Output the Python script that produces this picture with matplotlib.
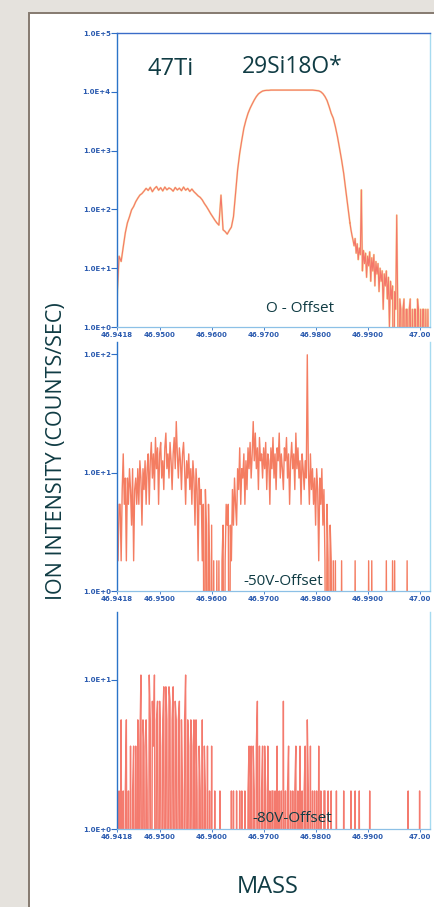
import numpy as np
import matplotlib
matplotlib.use('Agg')
import matplotlib.pyplot as plt
from matplotlib.patches import Rectangle

# mass channels (amu)
start_mass = 46.9418
step_0v = 0.0004
tail_start = 46.9866
step_off = 0.0002

# 0 V offset spectrum, counts/sec per channel
counts_0v = [3, 16, 13, 23, 40, 59, 75, 98, 112, 135, 155, 175, 186,
             205, 228, 210, 238, 200, 226, 245, 212, 234, 206, 240, 215,
             232, 222, 204, 236, 214, 230, 208, 240, 212, 228, 202, 222,
             200, 185, 170, 160, 145, 126, 112, 98, 85, 75, 66, 59, 54,
             175, 45, 42, 38, 44, 50, 75, 186, 470, 900, 1500, 2400, 3300,
             4300, 5250, 6200, 7250, 8300, 9200, 9800, 10300,
             10500, 10600, 10600, 10700, 10700, 10700, 10700, 10700, 10700,
             10700, 10700, 10700, 10700, 10700, 10700, 10700, 10700, 10700,
             10700, 10700, 10700, 10700, 10700, 10700, 10600, 10500,
             10400, 10000, 9300, 8300, 7100, 5600, 4300, 3550, 2550, 1730,
             1100, 690, 410, 213, 112, 59]

# 0 V offset noisy tail, finer channels from 46.9866 amu
counts_0v_tail = [59, 45, 36, 30, 24, 32, 18, 26, 14, 22, 17, 215, 9, 20, 12,
                  18, 7, 16, 11, 19, 6, 15, 9, 17, 5, 13, 8, 12, 4, 10, 6, 9,
                  2, 8, 5, 9, 3, 7, 1, 6, 3, 5, 0, 4, 2, 80, 2, 0, 3, 2, 0, 2,
                  3, 0, 2, 2, 0, 2, 3, 0, 2, 0, 2, 2, 0, 3, 2, 0, 2, 0, 2, 2,
                  0, 2, 0, 2, 0]

# -50 V and -80 V offset: counts per channel, in steps of 1.8 counts/sec
count_unit = 1.8
counts_50v = """
3 1 3 3 1 4 8 3 5 1  5 3 6 4 2 6 1 4 5 3  6 3 7 5 2 6 4 7 3 6
8 3 7 10 5 8 4 11 6 9  3 8 10 5 7 4 9 12 6 8  5 10 7 4 8 11 6 15 8 5
9 7 4 8 10 6 3 7 5 8  4 6 3 7 5 2 6 4 1 5  3 4 1 3 0 4 2 0 3 1
0 2 0 1 0 0 1 0 1 0  0 1 2 0 1 3 2 3 0 2  1 4 2 5 3 2 6 4 9 3
6 5 8 3 7 4 9 6 10 5  8 15 7 12 6 9 4 11 7 8  5 9 6 10 4 8 7 3 9 6
11 5 8 4 9 7 12 5 8 6  4 9 7 11 5 8 3 7 10 6  8 4 12 6 9 5 7 3 8 6
4 7 5 55 6 3 8 4 6 3  5 2 6 4 1 5 3 6 2 4  1 0 3 1 0 2 1 0 1 0
1 0 0 0 0 0 1 0 0 0  0 0 0 0 0 0 0 0 0 1  0 0 0 0 0 0 0 0 0 0
0 0 1 0 0 1 0 0 0 0  0 0 0 0 0 0 0 0 0 1  0 0 0 0 0 1 0 1 0 0
0 0 0 0 0 0 0 0 0 1  0 0 0 0 0 0 0 0 0 0  0 0 0 0 0 0 0 0 0 0
"""
counts_80v = """
1 0 1 0 3 0 1 0 1 3  0 1 0 2 0 1 2 0 2 0  3 0 2 6 0 3 2 0 3 1
0 6 3 0 4 2 6 0 3 4  0 4 2 0 3 5 0 5 3 0  5 4 0 3 5 0 4 3 0 3
4 0 3 1 0 3 6 0 3 2  0 3 2 0 3 0 3 1 0 2  1 0 3 0 2 1 0 2 0 1
0 2 0 0 1 0 0 0 0 1  0 0 0 0 0 0 0 0 0 0  1 0 1 0 0 1 0 0 1 0
1 0 0 1 0 0 1 2 0 2  0 2 1 0 2 4 0 2 0 1  2 0 2 1 0 2 0 1 0 1
1 0 1 0 2 0 1 0 1 0  4 0 1 0 1 2 0 1 0 1  0 1 2 0 1 0 2 0 1 0
1 2 0 3 1 0 2 0 1 0  1 0 1 0 2 0 1 0 0 1  1 0 0 1 0 0 1 0 0 0
0 1 0 0 0 0 0 0 1 0  0 0 0 0 0 1 0 0 0 1  0 0 0 1 0 0 0 0 0 0
0 0 0 1 0 0 0 0 0 0  0 0 0 0 0 0 0 0 0 0  0 0 0 0 0 0 0 0 0 0
0 0 0 0 0 0 0 0 0 0  1 0 0 0 0 0 0 0 0 0  0 1 0 0 0 0 0 0 0 0
"""

mass_ticks = [46.9418, 46.95, 46.96, 46.97, 46.98, 46.99, 47.00]
mass_labels = ["46.9418", "46.9500", "46.9600", "46.9700", "46.9800", "46.9900", "47.00"]
panel_labels = ["O - Offset", "-50V-Offset", "-80V-Offset"]

W, H = 434, 907
txt_col = '#103c44'
tick_col = '#2a5aaf'
line_col = '#f4776a'

fig = plt.figure(figsize=(W / 100, H / 100), dpi=100, facecolor='#e5e2dd')
fig.add_artist(Rectangle((29 / W, -0.05), 1.0, 1.05 - 12.5 / H, transform=fig.transFigure,
                         facecolor='white', edgecolor='#857a70', lw=1.4, zorder=-5))


def px_axes(left, top, right, bottom):
    return fig.add_axes([left / W, 1 - bottom / H, (right - left) / W, (bottom - top) / H])


def style(ax, ymax, yticks, ylabels, top_spine):
    ax.set_yscale('log')
    ax.set_ylim(1, ymax)
    ax.set_xlim(46.9418, 47.002)
    ax.set_facecolor('none')
    ax.set_xticks(mass_ticks, mass_labels)
    ax.set_yticks(yticks, ylabels)
    ax.minorticks_off()
    ax.tick_params(axis='y', direction='out', length=4, width=0.8, color='#2f6fc6',
                   pad=0.5, labelsize=5, labelcolor=tick_col)
    ax.tick_params(axis='x', direction='out', length=2, width=0.6, color='#2f6fc6',
                   pad=1.5, labelsize=5, labelcolor=tick_col)
    for lab in ax.get_xticklabels() + ax.get_yticklabels():
        lab.set_fontweight('bold')
    ax.spines['left'].set_color('#2b74c8')
    ax.spines['left'].set_linewidth(1.0)
    ax.spines['right'].set_color('#a6dbf0')
    ax.spines['right'].set_linewidth(1.0)
    ax.spines['bottom'].set_color('#8cc0e6')
    ax.spines['bottom'].set_linewidth(0.9)
    if top_spine:
        ax.spines['top'].set_color('#3a6cc8')
        ax.spines['top'].set_linewidth(1.0)
    else:
        ax.spines['top'].set_visible(False)


def offset_counts(text):
    c = np.array(text.split(), dtype=float) * count_unit
    c[c == 0] = 0.01   # empty channels fall below the axis
    return c


# panel 1: 0 V offset
ax1 = px_axes(117, 33, 430, 327)
m0 = start_mass + step_0v * np.arange(len(counts_0v))
tail = np.array(counts_0v_tail, dtype=float)
tail[tail == 0] = 0.01
mt = tail_start + step_off * np.arange(len(tail))
for xs, ys in [(m0, counts_0v), (mt, tail)]:
    ax1.plot(xs, ys, color='#f5c04a', lw=1.4, alpha=0.5)
    ax1.plot(xs, ys, color=line_col, lw=0.8)
style(ax1, 1e5, [1, 10, 100, 1e3, 1e4, 1e5],
      ["1.0E+0", "1.0E+1", "1.0E+2", "1.0E+3", "1.0E+4", "1.0E+5"], True)

# panel 2: -50 V offset
ax2 = px_axes(117, 342, 430, 591)
c50 = offset_counts(counts_50v)
m50 = start_mass + step_off * np.arange(len(c50))
ax2.plot(m50, c50, color='#f47d62', lw=1.0)
style(ax2, 127, [1, 10, 100], ["1.0E+0", "1.0E+1", "1.0E+2"], False)

# panel 3: -80 V offset
ax3 = px_axes(117, 612, 430, 829)
c80 = offset_counts(counts_80v)
m80 = start_mass + step_off * np.arange(len(c80))
ax3.plot(m80, c80, color='#f47a6e', lw=1.0)
style(ax3, 28.6, [1, 10], ["1.0E+0", "1.0E+1"], False)

font = 'Open Sans'
fig.text(171 / W, 1 - 75 / H, '47Ti', ha='center', va='baseline', fontsize=17,
         color=txt_col, family=font)
fig.text(292 / W, 1 - 73 / H, '29Si18O*', ha='center', va='baseline', fontsize=16.5,
         color=txt_col, family=font)
fig.text(300 / W, 1 - 312 / H, panel_labels[0], ha='center', va='baseline', fontsize=11,
         color=txt_col, family=font)
fig.text(283 / W, 1 - 585 / H, panel_labels[1], ha='center', va='baseline', fontsize=11,
         color=txt_col, family=font)
fig.text(292 / W, 1 - 822 / H, panel_labels[2], ha='center', va='baseline', fontsize=11,
         color=txt_col, family=font)
fig.text(57 / W, 1 - 451 / H, 'ION INTENSITY (COUNTS/SEC)', rotation=90, ha='center',
         va='center', fontsize=15.5, color=txt_col, family=font)
fig.text(268 / W, 1 - 893 / H, 'MASS', ha='center', va='baseline', fontsize=17,
         color=txt_col, family=font)

fig.savefig('out.png', dpi=100, facecolor=fig.get_facecolor())
